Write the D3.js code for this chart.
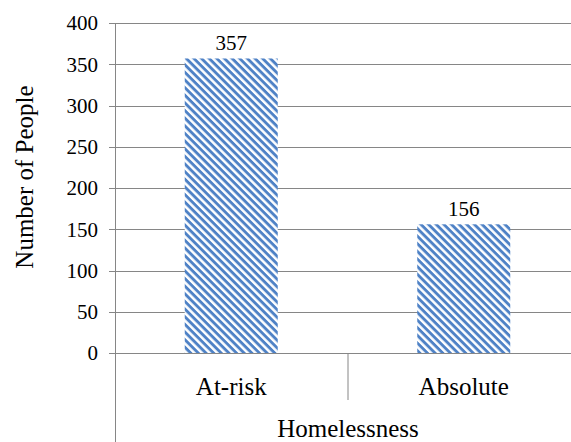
<!DOCTYPE html>
<html>
<head>
<meta charset="utf-8">
<script src="https://d3js.org/d3.v7.min.js"></script>
<style>
  body { margin: 0; background: #fff; }
</style>
</head>
<body>
<script>
// data
const categories = ["At-risk", "Absolute"];
const values = [357, 156];
const yTicks = [0, 50, 100, 150, 200, 250, 300, 350, 400];

const width = 571;
const height = 442;
const gridColor = "#868686";
const font = "Liberation Serif, DejaVu Serif, serif";

const svg = d3.select("body")
    .append("svg")
    .attr("width", width)
    .attr("height", height)
    .attr("font-family", font);

// diagonal stripe pattern
const pat = svg.append("defs").append("pattern")
    .attr("id", "stripes")
    .attr("patternUnits", "userSpaceOnUse")
    .attr("width", 5.4)
    .attr("height", 5.4)
    .attr("patternTransform", "rotate(45)");
pat.append("rect").attr("width", 5.4).attr("height", 5.4).attr("fill", "#ffffff");
pat.append("rect").attr("width", 5.4).attr("height", 2.9).attr("fill", "#4f82c6");

// scales
const x = d3.scaleBand()
    .domain(categories)
    .range([115, 580])
    .padding(0);

const y = d3.scaleLinear()
    .domain([0, 400])
    .range([353, 23]);

// gridlines + ticks
svg.append("g")
    .selectAll("line")
    .data(yTicks)
    .enter()
    .append("line")
    .attr("x1", 109)
    .attr("x2", width)
    .attr("y1", d => Math.round(y(d)) + 0.5)
    .attr("y2", d => Math.round(y(d)) + 0.5)
    .attr("stroke", gridColor)
    .attr("stroke-width", 1);

// tick labels
svg.append("g")
    .selectAll("text")
    .data(yTicks)
    .enter()
    .append("text")
    .attr("x", 98)
    .attr("y", d => y(d))
    .attr("dy", "0.35em")
    .attr("text-anchor", "end")
    .attr("font-size", 21)
    .text(d => d);

// bars
const barW = x.bandwidth() * 0.4;
svg.append("g")
    .selectAll("rect")
    .data(values)
    .enter()
    .append("rect")
    .attr("x", (d, i) => x(categories[i]) + (x.bandwidth() - barW) / 2)
    .attr("y", d => y(d))
    .attr("width", barW)
    .attr("height", d => y(0) - y(d))
    .attr("fill", "url(#stripes)");

// value labels
svg.append("g")
    .selectAll("text")
    .data(values)
    .enter()
    .append("text")
    .attr("x", (d, i) => x(categories[i]) + x.bandwidth() / 2)
    .attr("y", d => y(d) - 8)
    .attr("text-anchor", "middle")
    .attr("font-size", 21)
    .text(d => d);

// y axis line
svg.append("line")
    .attr("x1", 115.5).attr("x2", 115.5)
    .attr("y1", 23).attr("y2", height)
    .attr("stroke", gridColor);

// x axis line (redrawn over bars)
svg.append("line")
    .attr("x1", 109).attr("x2", width)
    .attr("y1", Math.round(y(0)) + 0.5).attr("y2", Math.round(y(0)) + 0.5)
    .attr("stroke", gridColor);

// category separator
svg.append("line")
    .attr("x1", x(categories[1]) + 0.5).attr("x2", x(categories[1]) + 0.5)
    .attr("y1", y(0)).attr("y2", 400)
    .attr("stroke", gridColor);

// category labels
svg.append("g")
    .selectAll("text")
    .data(categories)
    .enter()
    .append("text")
    .attr("x", d => x(d) + x.bandwidth() / 2)
    .attr("y", 395)
    .attr("text-anchor", "middle")
    .attr("font-size", 25)
    .text(d => d);

// x title
svg.append("text")
    .attr("x", 348)
    .attr("y", 437)
    .attr("text-anchor", "middle")
    .attr("font-size", 25)
    .text("Homelessness");

// y title
svg.append("text")
    .attr("transform", "translate(33,177) rotate(-90)")
    .attr("text-anchor", "middle")
    .attr("font-size", 25)
    .text("Number of People");
</script>
</body>
</html>
